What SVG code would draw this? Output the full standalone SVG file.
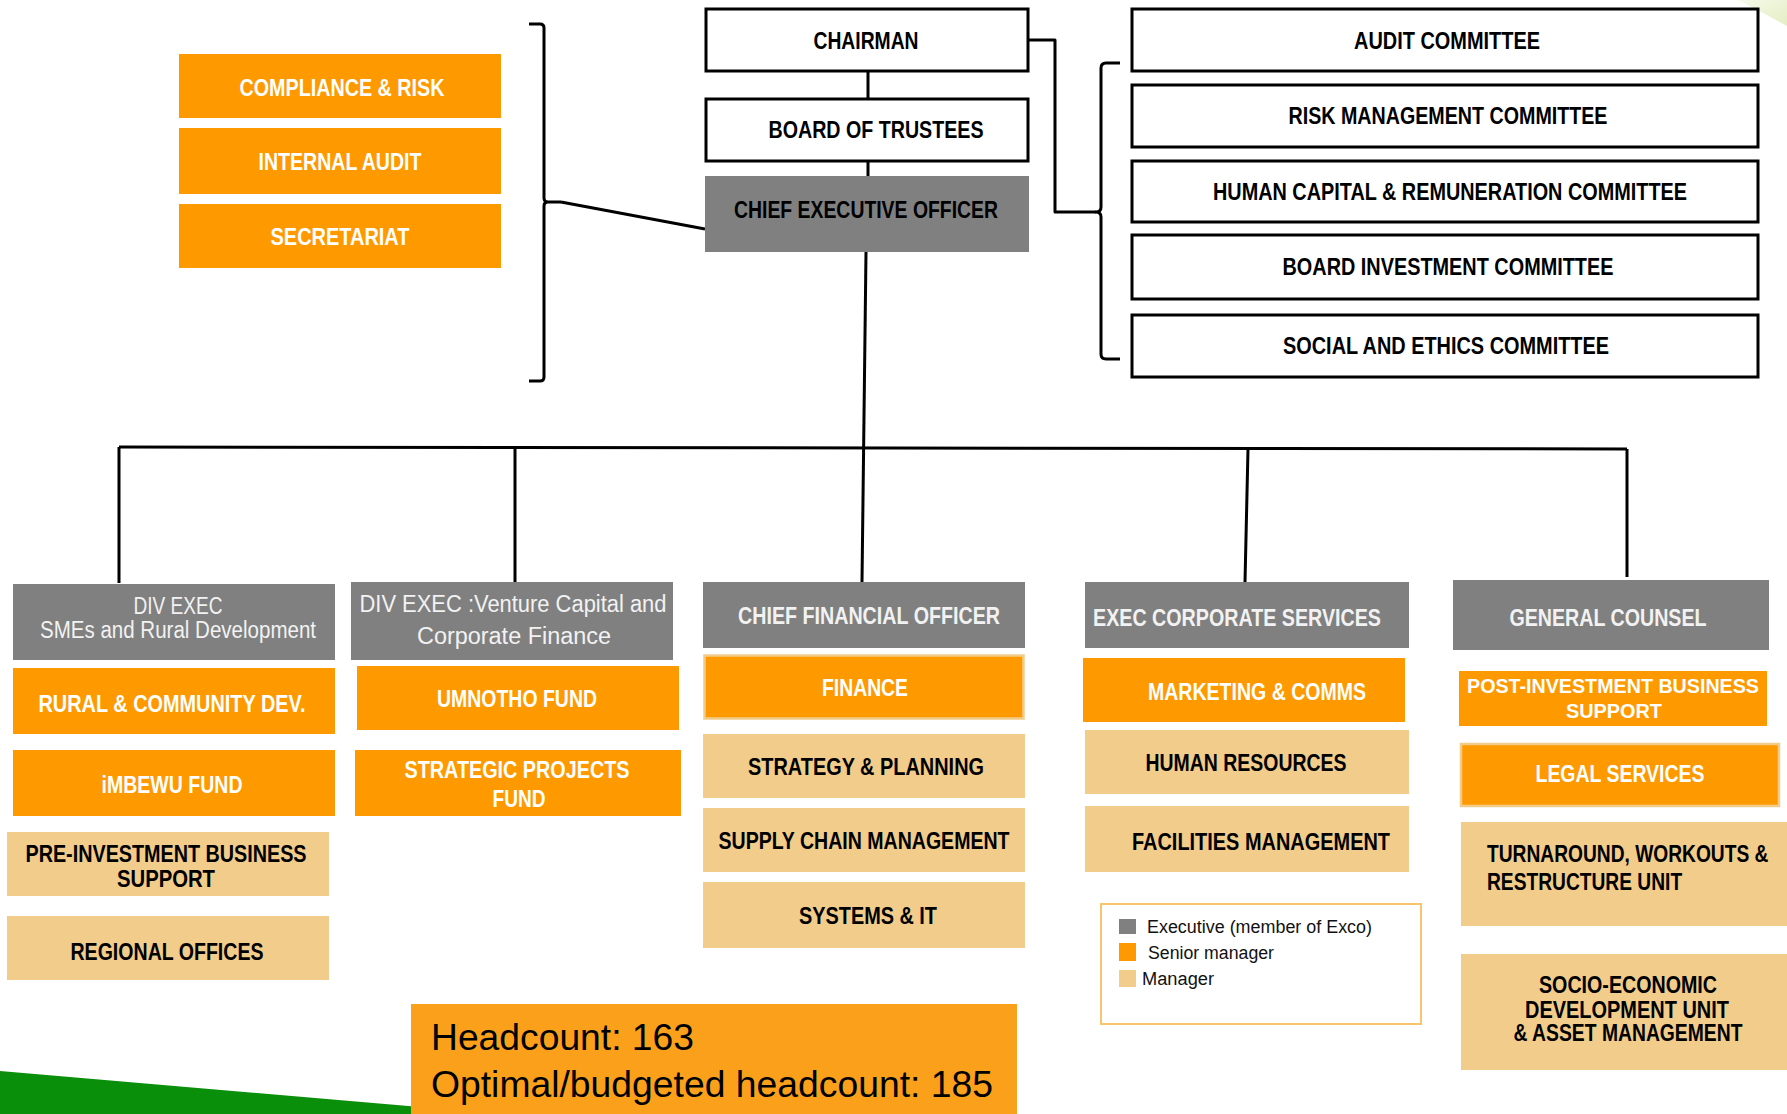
<svg xmlns="http://www.w3.org/2000/svg" width="1787" height="1114" viewBox="0 0 1787 1114">
<style>
.exec{fill:#808080}
.senior{fill:#FF9900}
.mgr{fill:#F2CC8A}
.board{fill:#fff;stroke:#000;stroke-width:3}
.bord{stroke:#F2CC8A;stroke-width:2.5}
.t{font-family:"Liberation Sans Narrow","Liberation Sans",Arial,sans-serif;font-weight:bold;font-size:23px;text-anchor:middle}
.n{font-weight:normal}
.ts{text-anchor:start}
.w{fill:#fff}
.lt{fill:#f2f2f2}
.k{fill:#000}
.leg{font-family:"Liberation Sans Narrow","Liberation Sans",Arial,sans-serif;font-size:18px;fill:#111}
.hc{font-family:"Liberation Sans Narrow","Liberation Sans",Arial,sans-serif;font-size:36px;fill:#000}
.ln{fill:none;stroke:#000;stroke-width:3;stroke-linejoin:round}
</style>
<defs>
<linearGradient id="gcorner" x1="0" y1="0" x2="1" y2="1">
<stop offset="0" stop-color="#f4f8e4"/>
<stop offset="1" stop-color="#dde9b5"/>
</linearGradient>
</defs>
<rect width="1787" height="1114" fill="#fff"/>
<g id="decor">
<polygon points="1738,0 1787,0 1787,26 1765,14" fill="url(#gcorner)" opacity="0.8"/>
<polygon points="0,1071 420,1107 420,1114 0,1114" fill="#0a8f0a"/>
</g>
<g id="connectors">
<path class="ln" d="M529,24 L540,24 Q544,24 544,28 L544,198 Q544,202 548,202 L561,202 M548,202 Q544,202 544,206 L544,377 Q544,381 540,381 L529,381" stroke-width="3.5"/>
<path class="ln" d="M561,202 L705,229" stroke-width="3.5"/>
<path class="ln" d="M868,71 V99 M868,161 V176" stroke-width="2"/>
<path class="ln" d="M1028,40 H1055 V212 H1096"/>
<path class="ln" d="M1120,63 L1106,63 Q1101,63 1101,68 L1101,207 Q1101,212 1096,212 Q1101,212 1101,217 L1101,354 Q1101,359 1106,359 L1120,359" stroke-width="3.5"/>
<path class="ln" d="M866,252 L862,582"/>
<path class="ln" d="M119,447 L1627,449" stroke-width="4"/>
<path class="ln" d="M119,447 V583 M515,447 V583 M1248,449 L1245,582"/>
<path class="ln" d="M1627,449 V577" stroke-width="4"/>
</g>
<g id="compliance"><rect class="senior" x="179" y="54" width="322" height="64"/><text class="t w" x="342" y="96" textLength="205" lengthAdjust="spacingAndGlyphs">COMPLIANCE &amp; RISK</text></g>
<g id="internal-audit"><rect class="senior" x="179" y="128" width="322" height="66"/><text class="t w" x="340" y="170" textLength="163" lengthAdjust="spacingAndGlyphs">INTERNAL AUDIT</text></g>
<g id="secretariat"><rect class="senior" x="179" y="204" width="322" height="64"/><text class="t w" x="340" y="245" textLength="139" lengthAdjust="spacingAndGlyphs">SECRETARIAT</text></g>
<g id="chairman"><rect class="board" x="706" y="9" width="322" height="62"/><text class="t k" x="866" y="49" textLength="105" lengthAdjust="spacingAndGlyphs">CHAIRMAN</text></g>
<g id="board-of-trustees"><rect class="board" x="706" y="99" width="322" height="62"/><text class="t k" x="876" y="138" textLength="215" lengthAdjust="spacingAndGlyphs">BOARD OF TRUSTEES</text></g>
<g id="ceo"><rect class="exec" x="705" y="176" width="324" height="76"/><text class="t k" x="866" y="218" textLength="264" lengthAdjust="spacingAndGlyphs">CHIEF EXECUTIVE OFFICER</text></g>
<g id="audit-committee"><rect class="board" x="1132" y="9" width="626" height="62"/><text class="t k" x="1447" y="49" textLength="186" lengthAdjust="spacingAndGlyphs">AUDIT COMMITTEE</text></g>
<g id="risk-committee"><rect class="board" x="1132" y="85" width="626" height="62"/><text class="t k" x="1448" y="124" textLength="319" lengthAdjust="spacingAndGlyphs">RISK MANAGEMENT  COMMITTEE</text></g>
<g id="hc-committee"><rect class="board" x="1132" y="161" width="626" height="61"/><text class="t k" x="1450" y="200" textLength="474" lengthAdjust="spacingAndGlyphs">HUMAN CAPITAL &amp; REMUNERATION COMMITTEE</text></g>
<g id="bic-committee"><rect class="board" x="1132" y="235" width="626" height="64"/><text class="t k" x="1448" y="275" textLength="331" lengthAdjust="spacingAndGlyphs">BOARD INVESTMENT COMMITTEE</text></g>
<g id="social-committee"><rect class="board" x="1132" y="315" width="626" height="62"/><text class="t k" x="1446" y="354" textLength="326" lengthAdjust="spacingAndGlyphs">SOCIAL AND ETHICS COMMITTEE</text></g>
<g id="div-exec-smes"><rect class="exec" x="13" y="584" width="322" height="76"/><text class="t lt n" x="178" y="614" textLength="89" lengthAdjust="spacingAndGlyphs">DIV EXEC</text><text class="t lt n" x="178" y="638" textLength="276" lengthAdjust="spacingAndGlyphs">SMEs and Rural Development</text></g>
<g id="div-exec-vc"><rect class="exec" x="351" y="582" width="322" height="78"/><text class="t lt n" x="513" y="612" textLength="307" lengthAdjust="spacingAndGlyphs">DIV EXEC :Venture Capital and</text><text class="t lt n" x="514" y="644" textLength="194" lengthAdjust="spacingAndGlyphs">Corporate Finance</text></g>
<g id="rural"><rect class="senior" x="13" y="668" width="322" height="66"/><text class="t w" x="172" y="712" textLength="267" lengthAdjust="spacingAndGlyphs">RURAL &amp; COMMUNITY DEV.</text></g>
<g id="umnotho"><rect class="senior" x="357" y="666" width="322" height="64"/><text class="t w" x="517" y="707" textLength="160" lengthAdjust="spacingAndGlyphs">UMNOTHO FUND</text></g>
<g id="imbewu"><rect class="senior" x="13" y="750" width="322" height="66"/><text class="t w" x="172" y="793" textLength="141" lengthAdjust="spacingAndGlyphs">iMBEWU  FUND</text></g>
<g id="strategic-projects"><rect class="senior" x="355" y="750" width="326" height="66"/><text class="t w" x="517" y="778" textLength="225" lengthAdjust="spacingAndGlyphs">STRATEGIC PROJECTS</text><text class="t w" x="519" y="807" textLength="53" lengthAdjust="spacingAndGlyphs">FUND</text></g>
<g id="pre-investment"><rect class="mgr" x="7" y="832" width="322" height="64"/><text class="t k" x="166" y="862" textLength="281" lengthAdjust="spacingAndGlyphs">PRE-INVESTMENT BUSINESS</text><text class="t k" x="166" y="887" textLength="98" lengthAdjust="spacingAndGlyphs">SUPPORT</text></g>
<g id="regional"><rect class="mgr" x="7" y="916" width="322" height="64"/><text class="t k" x="167" y="960" textLength="193" lengthAdjust="spacingAndGlyphs">REGIONAL  OFFICES</text></g>
<g id="cfo"><rect class="exec" x="703" y="582" width="322" height="66"/><text class="t lt" x="869" y="624" textLength="262" lengthAdjust="spacingAndGlyphs">CHIEF FINANCIAL OFFICER</text></g>
<g id="finance"><rect class="senior bord" x="704.5" y="655.5" width="319" height="63"/><text class="t w" x="865" y="696" textLength="86" lengthAdjust="spacingAndGlyphs">FINANCE</text></g>
<g id="strategy"><rect class="mgr" x="703" y="734" width="322" height="64"/><text class="t k" x="866" y="775" textLength="236" lengthAdjust="spacingAndGlyphs">STRATEGY &amp; PLANNING</text></g>
<g id="supply-chain"><rect class="mgr" x="703" y="808" width="322" height="64"/><text class="t k" x="864" y="849" textLength="291" lengthAdjust="spacingAndGlyphs">SUPPLY CHAIN MANAGEMENT</text></g>
<g id="systems"><rect class="mgr" x="703" y="882" width="322" height="66"/><text class="t k" x="868" y="924" textLength="138" lengthAdjust="spacingAndGlyphs">SYSTEMS &amp; IT</text></g>
<g id="exec-corporate"><rect class="exec" x="1085" y="582" width="324" height="66"/><text class="t lt" x="1237" y="626" textLength="288" lengthAdjust="spacingAndGlyphs">EXEC CORPORATE SERVICES</text></g>
<g id="marketing"><rect class="senior" x="1083" y="658" width="322" height="64"/><text class="t w" x="1257" y="700" textLength="218" lengthAdjust="spacingAndGlyphs">MARKETING &amp; COMMS</text></g>
<g id="hr"><rect class="mgr" x="1085" y="730" width="324" height="64"/><text class="t k" x="1246" y="771" textLength="201" lengthAdjust="spacingAndGlyphs">HUMAN RESOURCES</text></g>
<g id="facilities"><rect class="mgr" x="1085" y="806" width="324" height="66"/><text class="t k" x="1261" y="850" textLength="258" lengthAdjust="spacingAndGlyphs">FACILITIES  MANAGEMENT</text></g>
<g id="legend">
<rect x="1101" y="904" width="320" height="120" fill="#fff" stroke="#F8C46C" stroke-width="2"/>
<rect class="exec" x="1119" y="919" width="17" height="15"/>
<rect class="senior" x="1119" y="943" width="17" height="18"/>
<rect class="mgr" x="1119" y="970" width="17" height="17"/>
<text class="leg" x="1147" y="933" textLength="225" lengthAdjust="spacingAndGlyphs">Executive (member of Exco)</text>
<text class="leg" x="1148" y="959" textLength="126" lengthAdjust="spacingAndGlyphs">Senior manager</text>
<text class="leg" x="1142" y="985" textLength="72" lengthAdjust="spacingAndGlyphs">Manager</text>
</g>
<g id="general-counsel"><rect class="exec" x="1453" y="580" width="316" height="70"/><text class="t lt" x="1608" y="626" textLength="197" lengthAdjust="spacingAndGlyphs">GENERAL  COUNSEL</text></g>
<g id="post-investment"><rect class="senior" x="1459" y="671" width="308" height="55"/><text class="t w" x="1613" y="693" textLength="292" lengthAdjust="spacingAndGlyphs" style="font-size:21px">POST-INVESTMENT BUSINESS</text><text class="t w" x="1614" y="718" textLength="96" lengthAdjust="spacingAndGlyphs" style="font-size:21px">SUPPORT</text></g>
<g id="legal"><rect class="senior bord" x="1461" y="744" width="318" height="62"/><text class="t w" x="1620" y="782" textLength="169" lengthAdjust="spacingAndGlyphs">LEGAL  SERVICES</text></g>
<g id="turnaround"><rect class="mgr" x="1461" y="822" width="326" height="104"/><text class="t k ts" transform="translate(1487,862) scale(0.835,1)">TURNAROUND, WORKOUTS &amp;</text><text class="t k ts" transform="translate(1487,890) scale(0.835,1)">RESTRUCTURE UNIT</text></g>
<g id="socio-economic"><rect class="mgr" x="1461" y="954" width="326" height="116"/><text class="t k" x="1628" y="993" textLength="178" lengthAdjust="spacingAndGlyphs">SOCIO-ECONOMIC</text><text class="t k" x="1627" y="1018" textLength="204" lengthAdjust="spacingAndGlyphs">DEVELOPMENT  UNIT</text><text class="t k" x="1628" y="1041" textLength="229" lengthAdjust="spacingAndGlyphs">&amp; ASSET MANAGEMENT</text></g>
<g id="headcount"><rect x="411" y="1004" width="606" height="110" fill="#FBA01A"/><text class="hc" x="431" y="1050" textLength="263" lengthAdjust="spacingAndGlyphs">Headcount: 163</text><text class="hc" x="431" y="1097" textLength="562" lengthAdjust="spacingAndGlyphs">Optimal/budgeted headcount: 185</text></g>
</svg>
